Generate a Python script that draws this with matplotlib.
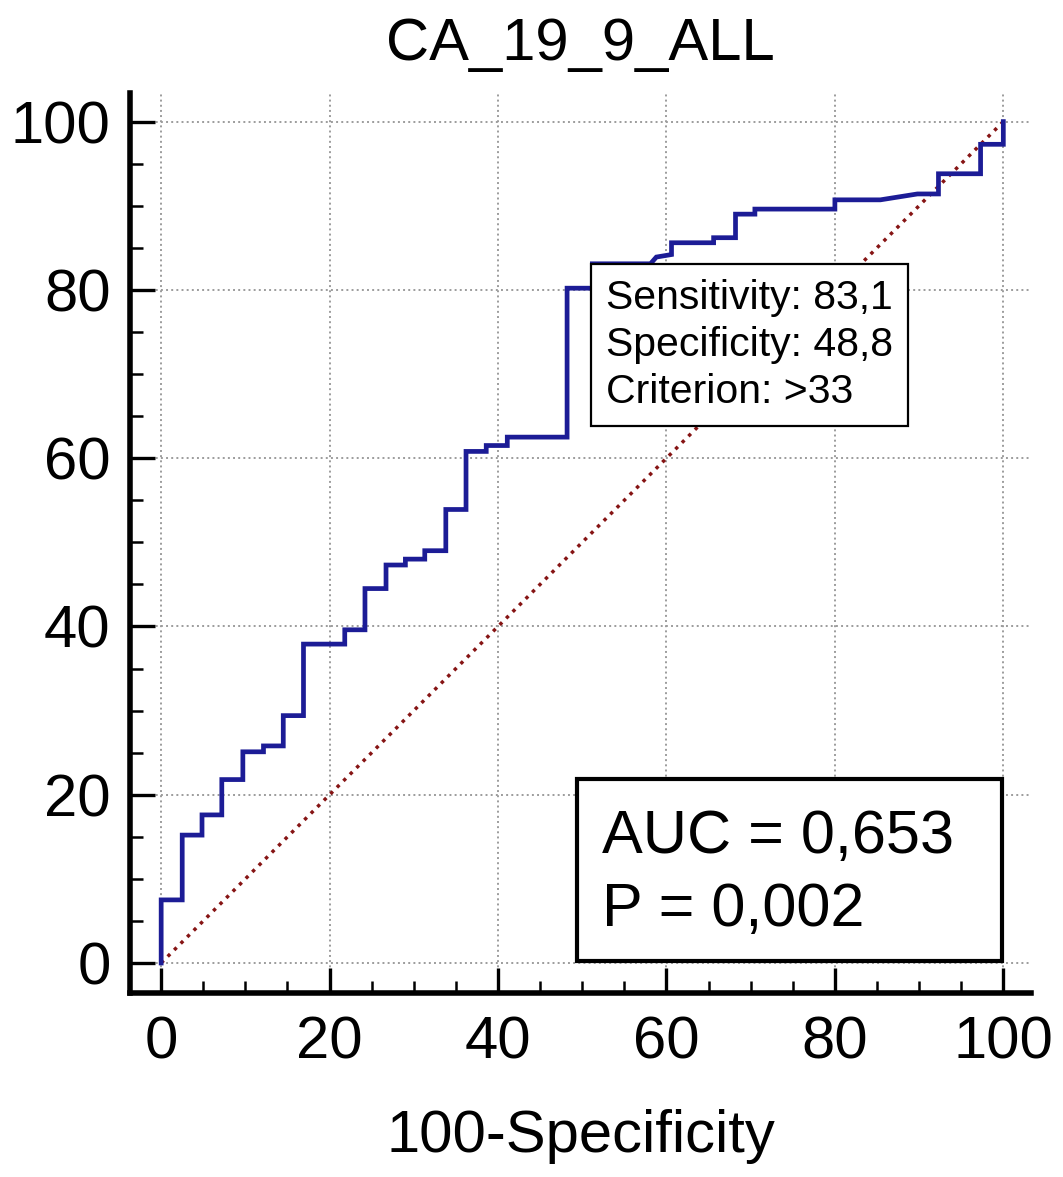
import matplotlib
matplotlib.use('Agg')
import matplotlib.pyplot as plt
from matplotlib.patches import Rectangle

# ROC curve vertices (100-Specificity, Sensitivity)
fpr = [0, 0, 2.5, 2.5, 4.85, 4.85, 7.2, 7.2, 9.7, 9.7, 12.15, 12.15, 14.5, 14.5,
       16.9, 16.9, 21.8, 21.8, 24.2, 24.2, 26.7, 26.7, 29.0, 29.0, 31.3, 31.3,
       33.8, 33.8, 36.2, 36.2, 38.6, 38.6, 41.1, 41.1, 48.2, 48.2, 51.2, 51.2,
       58.1, 58.8, 60.6, 60.6, 65.6, 65.6, 68.2, 68.2, 70.5, 70.5, 80.0, 80.0,
       85.4, 89.8, 92.3, 92.3, 97.3, 97.3, 100, 100]
tpr = [0, 7.5, 7.5, 15.2, 15.2, 17.6, 17.6, 21.8, 21.8, 25.1, 25.1, 25.8, 25.8, 29.4,
       29.4, 37.9, 37.9, 39.6, 39.6, 44.5, 44.5, 47.3, 47.3, 48.0, 48.0, 49.0,
       49.0, 53.9, 53.9, 60.8, 60.8, 61.5, 61.5, 62.5, 62.5, 80.2, 80.2, 83.1,
       83.1, 83.9, 84.2, 85.6, 85.6, 86.2, 86.2, 89.0, 89.0, 89.6, 89.6, 90.7,
       90.7, 91.4, 91.4, 93.8, 93.8, 97.3, 97.3, 100]
diag = [0, 100]

title = 'CA_19_9_ALL'
xlabel = '100-Specificity'
cut_point = (51.2, 83.1)
cut_text = 'Sensitivity: 83,1\nSpecificity: 48,8\nCriterion: >33'
auc_text = 'AUC = 0,653\nP = 0,002'
major = [0, 20, 40, 60, 80, 100]
minor = list(range(0, 101, 5))

plt.rcParams['font.family'] = ['Liberation Sans', 'DejaVu Sans']

fig = plt.figure(figsize=(10.63, 11.77), dpi=100)
ax = fig.add_axes([0.1223, 0.1563, 0.8477, 0.7647])

ax.plot(diag, diag, color='#861414', linestyle=':', linewidth=2.5, zorder=2)
ax.plot(fpr, tpr, color='#1c1c96', linewidth=3.4, zorder=3, solid_joinstyle='miter')

ax.set_xlim(-3.7, 103.3)
ax.set_ylim(-3.57, 103.4)
for s in ['top', 'right']:
    ax.spines[s].set_visible(False)
for s in ['left', 'bottom']:
    ax.spines[s].set_linewidth(4.0)

ax.set_xticks(major)
ax.set_yticks(major)
ax.set_xticks(minor, minor=True)
ax.set_yticks(minor, minor=True)
ax.tick_params(which='major', direction='in', length=18, width=2.4, labelsize=43)
ax.tick_params(which='minor', direction='in', length=9, width=1.8)
ax.tick_params(axis='x', which='major', pad=16)
ax.tick_params(axis='y', which='major', pad=14)
ax.grid(True, which='major', linestyle=':', color='#9c9c9c', linewidth=1.4, zorder=0)

ax.set_title(title, fontsize=43, pad=24)
ax.set_xlabel(xlabel, fontsize=43, labelpad=28)

# cut-off box, top-left corner at the criterion point
ax.annotate(cut_text, xy=cut_point, xycoords='data', xytext=(10, -11),
            textcoords='offset points', ha='left', va='top', fontsize=29.5,
            linespacing=1.3, zorder=5,
            bbox=dict(boxstyle='square,pad=0.36', fc='white', ec='black', lw=1.6))

# AUC box
ax.add_patch(Rectangle((49.4, 0.2), 50.4, 21.7, fc='white', ec='black', lw=3.0, zorder=5))
ax.text(52.4, 10.6, auc_text, fontsize=44, ha='left', va='center',
        linespacing=1.35, zorder=6)

fig.savefig('out.png', dpi=100)
